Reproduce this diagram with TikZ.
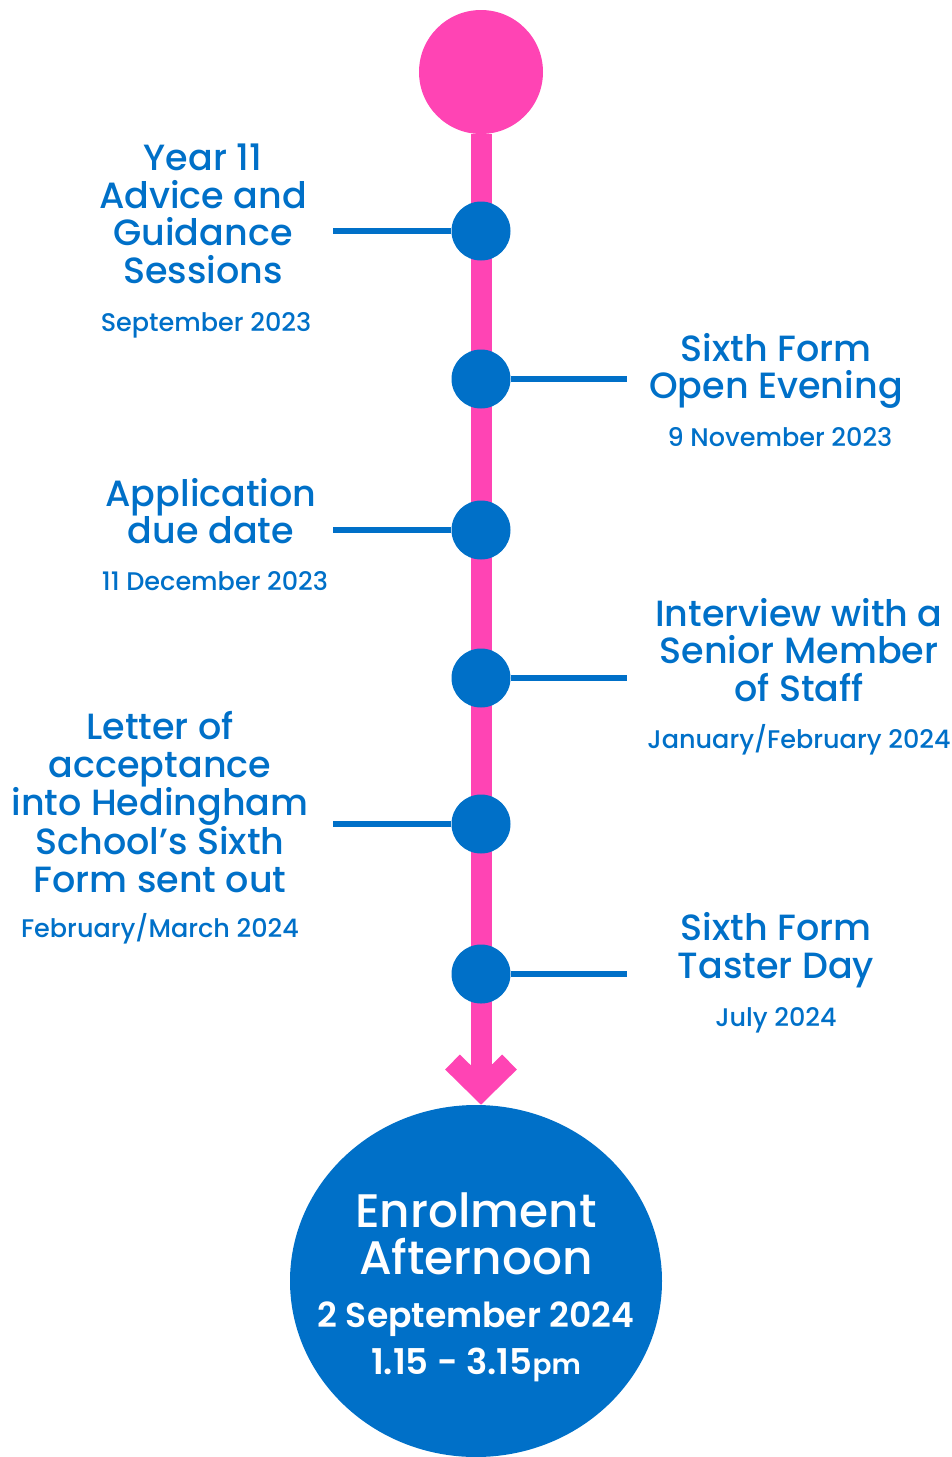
\documentclass[tikz,border=0pt]{standalone}
\usepackage{fontspec}
\setmainfont{Poppins}[UprightFont=* Medium, BoldFont=* SemiBold]
\usetikzlibrary{shapes.geometric}
\definecolor{tlpink}{RGB}{255,68,180}
\definecolor{tlblue}{RGB}{0,112,200}
\tikzset{
  milestone/.style={circle, fill=tlblue, minimum size=59pt, inner sep=0pt},
  title/.style={text=tlblue, align=center, inner sep=0pt, font=\fontsize{36.5}{37.5}\selectfont},
  when/.style={text=tlblue, inner sep=0pt, font=\fontsize{25.5}{30}\selectfont},
  link/.style={tlblue, line width=6pt}
}

\begin{document}
\begin{tikzpicture}[x=1pt,y=-1pt]
\useasboundingbox (0,0) rectangle (952,1457);

% the pink spine with its arrow
\node[circle, fill=tlpink, minimum size=124pt, inner sep=0pt] (start) at (481,72) {};
\node[ellipse, fill=tlblue, minimum width=372pt, minimum height=352pt, inner sep=0pt] (finish) at (476,1281) {};
\coordinate (tip) at (481,1090);
\coordinate (armL) at (452.5,1062);
\coordinate (armR) at (509.5,1062);
\draw[tlpink, line width=21pt] (start) -- (tip);
\draw[tlpink, line width=21pt] (armL) -- (tip) -- (armR);

% milestones and their stubs
\foreach \n/\y/\x in {1/231/333, 2/379/627, 3/530/333, 4/678/627, 5/824/333, 6/974/627} {
  \node[milestone] (m\n) at (481,\y) {};
  \coordinate (end\n) at (\x,\y);
  \draw[link] (m\n) -- (end\n);
}

\node[title] (t1) at (203,214) {Year 11\\Advice and\\Guidance\\Sessions};
\node[when] (d1) at (206,325) {September 2023};
\node[title] (t2) at (776,371) {Sixth Form\\Open Evening};
\node[when] (d2) at (780,437) {9 November 2023};
\node[title] (t3) at (211,511) {Application\\due date};
\node[when] (d3) at (215,581) {11 December 2023};
\node[title] (t4) at (799,650) {Interview with a\\Senior Member\\of Staff};
\node[when] (d4) at (799,740) {January/February 2024};
\node[title] (t5) at (160,802) {Letter of\\acceptance\\into Hedingham\\School’s Sixth\\Form sent out};
\node[when] (d5) at (160,929) {February/March 2024};
\node[title] (t6) at (776,950) {Sixth Form\\Taster Day};
\node[when] (d6) at (776,1020) {July 2024};

% enrolment text
\node[text=white, align=center, inner sep=0pt, font=\fontsize{47}{47}\selectfont] (e1) at (476,1234) {Enrolment\\Afternoon};
\node[text=white, inner sep=0pt, font=\bfseries\fontsize{34.5}{36}\selectfont] (e2) at (476,1319) {2 September 2024};
\node[text=white, inner sep=0pt, font=\bfseries\fontsize{35.5}{36}\selectfont] (e3) at (476,1365) {1.15 - 3.15{\fontsize{28}{30}\selectfont pm}};
\end{tikzpicture}
\end{document}
